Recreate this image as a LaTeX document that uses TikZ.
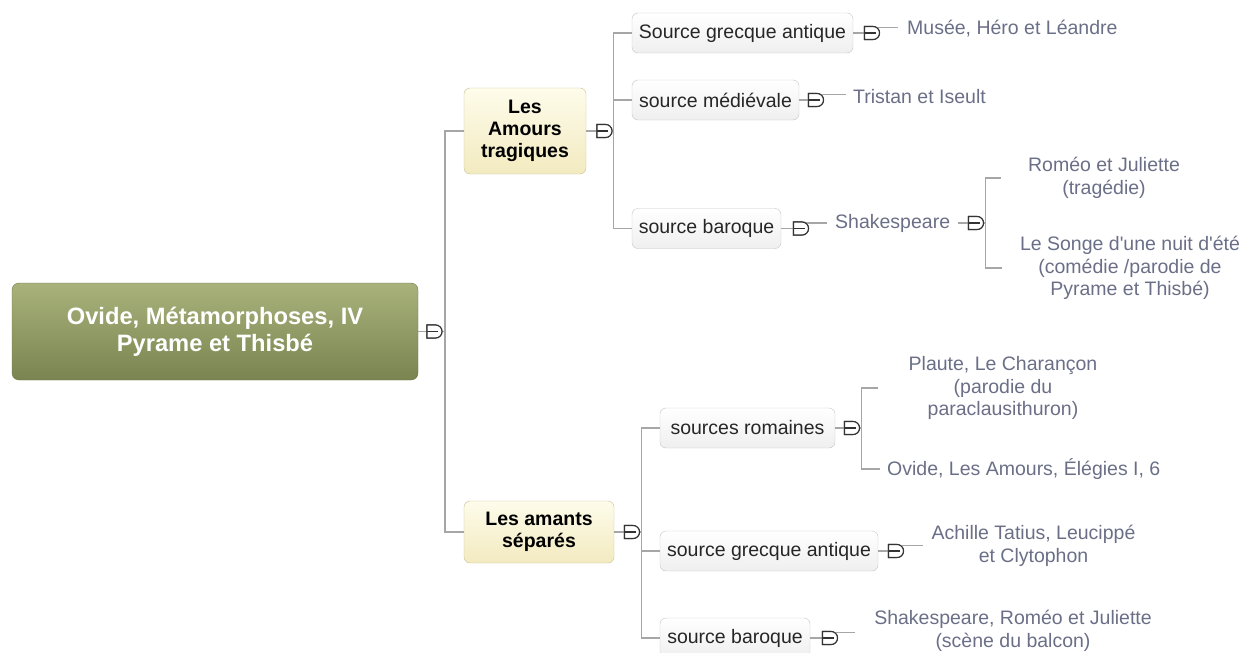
\documentclass[tikz,border=0pt]{standalone}
\usepackage{fontspec}
\setmainfont{Liberation Sans}[Ligatures=TeXOff]
\usetikzlibrary{shapes.misc,calc}
\definecolor{roottop}{HTML}{A9B27B}
\definecolor{rootbot}{HTML}{7A8450}
\definecolor{rootborder}{HTML}{6F7948}
\definecolor{cattop}{HTML}{FEFCEB}
\definecolor{catbot}{HTML}{F2EAC0}
\definecolor{catborder}{HTML}{C8BF94}
\definecolor{subbot}{HTML}{EFEFEF}
\definecolor{subborder}{HTML}{C4C4C4}
\definecolor{linegray}{HTML}{A6A6A6}
\definecolor{leafc}{HTML}{6A6F87}
\definecolor{glyphc}{HTML}{333333}
\begin{document}
\begin{tikzpicture}[x=1pt,y=-1pt,
  conn/.style={draw=linegray, line width=1.5pt},
  rootbox/.style={rounded corners=7pt, draw=rootborder, top color=roottop, bottom color=rootbot, text=white,
    font=\fontsize{23.7}{27}\selectfont\bfseries, align=center, minimum width=406pt, minimum height=97pt, inner sep=0pt},
  catbox/.style={rounded corners=6pt, draw=catborder, top color=cattop, bottom color=catbot, text=black,
    font=\fontsize{19.5}{21.7}\selectfont\bfseries, align=center, inner sep=0pt},
  subbox/.style={rounded corners=6pt, draw=subborder, top color=white, bottom color=subbot, text=black!85,
    font=\fontsize{19.5}{22}\selectfont, inner sep=0pt, minimum height=40pt},
  leaf/.style={text=leafc, font=\fontsize{19.5}{22.8}\selectfont, align=center, inner ysep=0pt},
  glyph/.style={shape=rounded rectangle, rounded rectangle west arc=none, draw=glyphc, fill=white,
    line width=1.1pt, minimum width=15pt, minimum height=13pt, inner sep=0pt,
    path picture={\draw[glyphc, line width=1.1pt] (path picture bounding box.west) -- ([xshift=-4pt]path picture bounding box.east);}}
]
\useasboundingbox (0,0) rectangle (1243,653);

% main boxes
\node[rootbox] (root) at (215,331.5) {Ovide, Métamorphoses, IV\\Pyrame et Thisbé};
\node[catbox, minimum width=122pt, minimum height=86pt] (amours) at (525,131) {Les\\Amours\\tragiques};
\node[catbox, minimum width=150pt, minimum height=62pt] (amants) at (539,532) {Les amants\\séparés};

\node[subbox, minimum width=221pt] (sga1) at (742.5,33) {Source grecque antique};
\node[subbox, minimum width=167pt] (smed) at (715.5,100) {source médiévale};
\node[subbox, minimum width=149pt] (sbar1) at (706.5,228.5) {source baroque};
\node[subbox, minimum width=175pt] (srom) at (747.5,428) {sources romaines};
\node[subbox, minimum width=218pt] (sga2) at (769,551) {source grecque antique};
\node[subbox, minimum width=150pt] (sbar2) at (735,638) {source baroque};

% leaves
\node[leaf, anchor=west, inner xsep=9pt] (musee) at (898,29) {Musée, Héro et Léandre};
\node[leaf, anchor=west, inner xsep=7pt] (tristan) at (846,97) {Tristan et Iseult};
\node[leaf, anchor=west, inner xsep=8pt] (shak) at (827,223) {Shakespeare};
\node[leaf, inner xsep=27pt] (romeo) at (1104,178) {Roméo et Juliette\\(tragédie)};
\node[leaf, inner xsep=18pt] (songe) at (1130,268) {Le Songe d'une nuit d'été\\(comédie /parodie de\\Pyrame et Thisbé)};
\node[leaf, inner xsep=30pt] (plaute) at (1003,388) {Plaute, Le Charançon\\(parodie du\\paraclausithuron)};
\node[leaf, anchor=west, inner xsep=7pt] (ovide) at (880,469) {Ovide, Les Amours, Élégies I, 6};
\node[leaf, inner xsep=8pt] (achille) at (1033.5,546) {Achille Tatius, Leucippé\\et Clytophon};
\node[leaf, inner xsep=19pt] (balcon) at (1013,631) {Shakespeare, Roméo et Juliette\\(scène du balcon)};

% glyph positions
\coordinate (g0c) at (434.5,331.5);
\coordinate (g1c) at (604.5,131);
\coordinate (g2c) at (632,532);
\coordinate (gsga1c) at (872,33);
\coordinate (gmedc) at (816,100);
\coordinate (gbar1c) at (801,228.5);
\coordinate (gshakc) at (976,223);
\coordinate (gromc) at (852,428);
\coordinate (gsga2c) at (896,551);
\coordinate (gbar2c) at (830,638);

\begin{scope}[every node/.style={glyph}]
\node (g0) at (g0c) {};
\node (g1) at (g1c) {};
\node (g2) at (g2c) {};
\node (gsga1) at (gsga1c) {};
\node (gmed) at (gmedc) {};
\node (gbar1) at (gbar1c) {};
\node (gshak) at (gshakc) {};
\node (grom) at (gromc) {};
\node (gsga2) at (gsga2c) {};
\node (gbar2) at (gbar2c) {};
\end{scope}

% trunk coordinates
\coordinate (t0) at ([xshift=2.5pt]g0.east);
\coordinate (t1) at ([xshift=1pt]g1.east);
\coordinate (t2) at ([xshift=1.5pt]g2.east);
\coordinate (tshak) at ([xshift=1.5pt]gshak.east);
\coordinate (trom) at ([xshift=1.5pt]grom.east);
% outgoing points of glyphs
\coordinate (gsga1o) at ([shift={(-3pt,5.5pt)}]gsga1.east);
\coordinate (gmedo) at ([shift={(-3pt,5.5pt)}]gmed.east);
\coordinate (gbar1o) at ([shift={(-3pt,5.5pt)}]gbar1.east);
\coordinate (gsga2o) at ([shift={(-3pt,5.5pt)}]gsga2.east);
\coordinate (gbar2o) at ([shift={(-3pt,5.5pt)}]gbar2.east);

% connectors
\draw[conn] (root.east) -- (g0.west);
\draw[conn] (g0.east) -- (t0);
\draw[conn] (amours.west) -| (t0);
\draw[conn] (amants.west) -| (t0);

\draw[conn] (amours.east) -- (g1.west);
\draw[conn] (g1.east) -- (t1);
\draw[conn] (sga1.west) -| (t1);
\draw[conn] (smed.west) -| (t1);
\draw[conn] (sbar1.west) -| (t1);

\draw[conn] (amants.east) -- (g2.west);
\draw[conn] (g2.east) -- (t2);
\draw[conn] (srom.west) -| (t2);
\draw[conn] (sga2.west) -| (t2);
\draw[conn] (sbar2.west) -| (t2);

\draw[conn] (sga1.east) -- (gsga1.west);
\draw[conn] (gsga1o) -- (gsga1o -| musee.west);
\draw[conn] (smed.east) -- (gmed.west);
\draw[conn] (gmedo) -- (gmedo -| tristan.west);
\draw[conn] (sbar1.east) -- (gbar1.west);
\draw[conn] (gbar1o) -- (gbar1o -| shak.west);
\draw[conn] (shak.east) -- (gshak.west);
\draw[conn] (gshak.east) -- (tshak);
\draw[conn] (romeo.west) -| (tshak);
\draw[conn] (songe.west) -| (tshak);

\draw[conn] (srom.east) -- (grom.west);
\draw[conn] (grom.east) -- (trom);
\draw[conn] (plaute.west) -| (trom);
\draw[conn] (ovide.west) -| (trom);
\draw[conn] (sga2.east) -- (gsga2.west);
\draw[conn] (gsga2o) -- (gsga2o -| achille.west);
\draw[conn] (sbar2.east) -- (gbar2.west);
\draw[conn] (gbar2o) -- (gbar2o -| balcon.west);

% redraw glyphs on top of connectors
\begin{scope}[every node/.style={glyph}]
\node at (g0c) {};
\node at (g1c) {};
\node at (g2c) {};
\node at (gsga1c) {};
\node at (gmedc) {};
\node at (gbar1c) {};
\node at (gshakc) {};
\node at (gromc) {};
\node at (gsga2c) {};
\node at (gbar2c) {};
\end{scope}
\end{tikzpicture}
\end{document}
